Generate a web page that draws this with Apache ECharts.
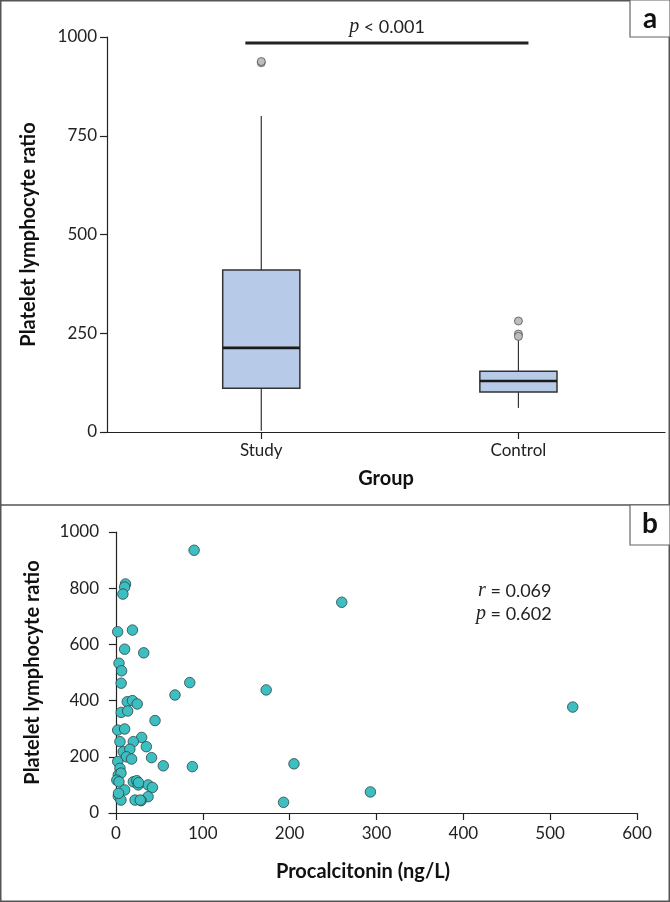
<!DOCTYPE html>
<html>
<head>
<meta charset="utf-8">
<script src="https://cdn.jsdelivr.net/npm/echarts@6/dist/echarts.min.js"></script>
<style>html,body{margin:0;padding:0;background:#fff;}#c{width:670px;height:902px;}</style>
</head>
<body>
<div id="c"></div>
<script>
// ---- Panel a: box plot data ----
var groups = ['Study', 'Control'];
// [whiskerLow, Q1, median, Q3, whiskerHigh]
var studyStats = [3, 111, 213, 410, 800];
var controlStats = [61, 101, 129, 154, 235];
var studyOutliers = [935, 938];
var controlOutliers = [281, 248, 242];
var boxTicks = [0, 250, 500, 750, 1000];

// ---- Panel b: scatter data (Procalcitonin ng/L, PLR) ----
var pctValues = [90, 260, 526, 173, 205, 193, 293, 11, 10, 8, 2, 19, 10, 32, 3.5, 6.5, 6, 85, 68,
  13, 19, 24.5, 6, 13.5, 45, 2, 10, 4.6, 29.6, 20, 35, 8.4, 16, 12, 18, 41, 54.5, 88, 2, 4.6,
  2.7, 5.8, 1, 3.5, 20, 24, 25.7, 37, 42, 10, 2.7, 37, 5.8, 22, 29, 3, 26, 28];
var plrValues = [935, 750, 377, 438, 175, 38, 75, 815, 804, 779, 645, 651, 583, 570, 533, 506, 462, 464, 420,
  396, 400, 388, 358, 363, 329, 295, 299, 254, 269, 254, 236, 218, 227, 200, 192, 197, 168, 165, 183, 159,
  135, 142, 117, 111, 111, 115, 100, 100, 91, 82, 60, 58, 46, 46, 44, 70, 108, 46];
var pctTicks = [0, 100, 200, 300, 400, 500, 600];

var FONT = 'Lato';
var boxData = [[1].concat(studyStats), [2].concat(controlStats)];
var outlierData = studyOutliers.map(function (v) { return [1, v]; })
  .concat(controlOutliers.map(function (v) { return [2, v]; }));
var scatterData = pctValues.map(function (x, i) { return [x, plrValues[i]]; });

var chart = echarts.init(document.getElementById('c'), null, { renderer: 'canvas' });
var axisLineStyle = { color: '#222', width: 1.2 };
var labelStyle = { color: '#222', fontFamily: FONT, fontSize: 17 };
var nameStyle = { color: '#111', fontFamily: FONT, fontSize: 20, fontWeight: 'bold' };
var plain = function (v) { return String(v); };

chart.setOption({
  animation: false,
  backgroundColor: '#fff',
  grid: [
    { left: 107, top: 37, right: 5, bottom: 470 },
    { left: 109, top: 532, right: 33, bottom: 89 }
  ],
  xAxis: [
    {
      gridIndex: 0, type: 'value', min: 0.4, max: 2.57,
      name: 'Group', nameLocation: 'middle', nameGap: 37, nameTextStyle: nameStyle,
      axisLine: { lineStyle: axisLineStyle },
      axisTick: { show: true, length: 7, customValues: [1, 2], lineStyle: axisLineStyle },
      axisLabel: Object.assign({ customValues: [1, 2], margin: 10, formatter: function (v) { return groups[Math.round(v) - 1]; } }, labelStyle),
      splitLine: { show: false }
    },
    {
      gridIndex: 1, type: 'value', min: -8, max: 600,
      name: 'Procalcitonin (ng/L)', nameLocation: 'middle', nameGap: 49,
      nameTextStyle: Object.assign({ padding: [0, 20, 0, 0] }, nameStyle),
      axisLine: { lineStyle: axisLineStyle },
      axisTick: { show: true, length: 7, customValues: pctTicks, lineStyle: axisLineStyle },
      axisLabel: Object.assign({ customValues: pctTicks, margin: 12, formatter: plain }, labelStyle),
      splitLine: { show: false }
    }
  ],
  yAxis: [
    {
      gridIndex: 0, type: 'value', min: 0, max: 1000, interval: 250,
      name: 'Platelet lymphocyte ratio', nameLocation: 'middle', nameGap: 68, nameTextStyle: nameStyle,
      axisLine: { show: true, lineStyle: axisLineStyle },
      axisTick: { show: true, length: 7, lineStyle: axisLineStyle },
      axisLabel: Object.assign({ margin: 10, formatter: plain }, labelStyle),
      splitLine: { show: false }
    },
    {
      gridIndex: 1, type: 'value', min: 0, max: 1000, interval: 200,
      name: 'Platelet lymphocyte ratio', nameLocation: 'middle', nameGap: 66, nameTextStyle: nameStyle,
      axisLine: { show: true, lineStyle: axisLineStyle },
      axisTick: { show: true, length: 7, lineStyle: axisLineStyle },
      axisLabel: Object.assign({ margin: 10, formatter: plain }, labelStyle),
      splitLine: { show: false }
    }
  ],
  series: [
    {
      type: 'custom', xAxisIndex: 0, yAxisIndex: 0, data: boxData,
      renderItem: function (params, api) {
        var x = api.value(0);
        var lo = api.coord([x, api.value(1)]);
        var q1 = api.coord([x, api.value(2)]);
        var med = api.coord([x, api.value(3)]);
        var q3 = api.coord([x, api.value(4)]);
        var hi = api.coord([x, api.value(5)]);
        var hw = api.size([0.3, 0])[0] / 2;
        var ws = { stroke: '#333', lineWidth: 1.2 };
        return {
          type: 'group', children: [
            { type: 'line', shape: { x1: lo[0], y1: lo[1], x2: q1[0], y2: q1[1] }, style: ws },
            { type: 'line', shape: { x1: q3[0], y1: q3[1], x2: hi[0], y2: hi[1] }, style: ws },
            { type: 'rect', shape: { x: q1[0] - hw, y: q3[1], width: 2 * hw, height: q1[1] - q3[1] },
              style: { fill: '#b7cbe8', stroke: '#333', lineWidth: 1.5 } },
            { type: 'line', shape: { x1: med[0] - hw, y1: med[1], x2: med[0] + hw, y2: med[1] },
              style: { stroke: '#1a1a1a', lineWidth: 2.6 } }
          ]
        };
      }
    },
    {
      type: 'scatter', xAxisIndex: 0, yAxisIndex: 0, data: outlierData, symbolSize: 8,
      itemStyle: { color: '#bdbdbd', borderColor: '#555', borderWidth: 0.8, opacity: 1 }
    },
    {
      type: 'line', xAxisIndex: 0, yAxisIndex: 0, data: [[0.938, 985], [2.039, 985]],
      showSymbol: false, symbol: 'none', lineStyle: { color: '#222', width: 3 }
    },
    {
      type: 'scatter', xAxisIndex: 1, yAxisIndex: 1, data: scatterData, symbolSize: 10.5,
      itemStyle: { color: '#3dbfc1', borderColor: '#2b4445', borderWidth: 0.8, opacity: 1 }
    }
  ],
  graphic: [
    { type: 'rect', shape: { x: 0.75, y: 0.75, width: 668.5, height: 900.5 }, style: { fill: 'none', stroke: '#555', lineWidth: 1.5 }, z: 100 },
    { type: 'line', shape: { x1: 0, y1: 505, x2: 670, y2: 505 }, style: { stroke: '#555', lineWidth: 1.5 }, z: 100 },
    { type: 'rect', shape: { x: 630, y: 0, width: 40, height: 37 }, style: { fill: '#fff', stroke: '#666', lineWidth: 1.2 }, z: 100 },
    { type: 'text', x: 650, y: 18.5, style: { text: 'a', fontFamily: FONT, fontSize: 28, fontWeight: 'bold', fill: '#111', align: 'center', verticalAlign: 'middle' }, z: 101 },
    { type: 'rect', shape: { x: 630, y: 505, width: 40, height: 40 }, style: { fill: '#fff', stroke: '#666', lineWidth: 1.2 }, z: 100 },
    { type: 'text', x: 650, y: 524, style: { text: 'b', fontFamily: FONT, fontSize: 28, fontWeight: 'bold', fill: '#111', align: 'center', verticalAlign: 'middle' }, z: 101 },
    { type: 'text', x: 387, y: 27, style: {
        text: '{i|p} < 0.001', align: 'center', verticalAlign: 'middle', fill: '#222', fontFamily: FONT, fontSize: 18,
        rich: { i: { fontFamily: 'Liberation Serif', fontStyle: 'italic', fontSize: 20, fill: '#222' } }
      }, z: 101 },
    { type: 'text', x: 478, y: 591, style: {
        text: '{i|r} = 0.069', align: 'left', verticalAlign: 'middle', fill: '#222', fontFamily: FONT, fontSize: 18,
        rich: { i: { fontFamily: 'Liberation Serif', fontStyle: 'italic', fontSize: 20, fill: '#222' } }
      }, z: 101 },
    { type: 'text', x: 476, y: 614, style: {
        text: '{i|p} = 0.602', align: 'left', verticalAlign: 'middle', fill: '#222', fontFamily: FONT, fontSize: 18,
        rich: { i: { fontFamily: 'Liberation Serif', fontStyle: 'italic', fontSize: 20, fill: '#222' } }
      }, z: 101 }
  ]
});
</script>
</body>
</html>
